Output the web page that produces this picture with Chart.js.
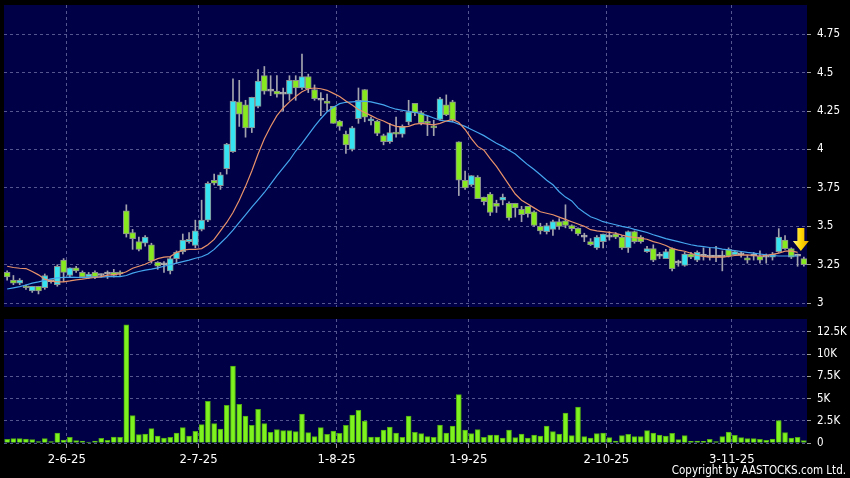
<!DOCTYPE html>
<html>
<head>
<meta charset="utf-8">
<script src="https://cdn.jsdelivr.net/npm/chart.js@4.4.0/dist/chart.umd.min.js"></script>
<style>
  html, body { margin: 0; padding: 0; background: #000; }
  #wrap { position: relative; width: 850px; height: 478px; overflow: hidden; }
  #priceChart { position: absolute; left: 0; top: 0; }
  #volChart { position: absolute; left: 0; top: 312px; }
  #copy { position: absolute; right: 4px; top: 463px; color: #fff;
          font: 11.5px 'DejaVu Sans Condensed', 'DejaVu Sans', sans-serif; }
</style>
</head>
<body>
<div id="wrap">
  <canvas id="priceChart" width="850" height="312"></canvas>
  <canvas id="volChart" width="850" height="166"></canvas>
  <div id="copy">Copyright by AASTOCKS.com Ltd.</div>
</div>
<script>
// trading days, 19 May - 18 Nov 2025
const tradingDays = [
  [5, [19,20,21,22,23,26,27,28,29,30]],
  [6, [2,3,4,5,6,9,10,11,12,13,16,17,18,19,20,23,24,25,26,27,30]],
  [7, [2,3,4,7,8,9,10,11,14,15,16,17,18,21,22,23,24,25,28,29,30,31]],
  [8, [1,4,5,6,7,8,11,12,13,14,15,18,19,20,21,22,25,26,27,28,29]],
  [9, [1,2,3,4,5,8,9,10,11,12,15,16,17,18,19,22,23,24,25,26,29,30]],
  [10, [2,3,6,8,9,10,13,14,15,16,17,20,21,22,23,24,27,28,30,31]],
  [11, [3,4,5,6,7,10,11,12,13,14,17,18]]
];
const categories = tradingDays.flatMap(([m, days]) => days.map(d => d + '-' + m + '-25'));
const shownDates = ['2-6-25', '2-7-25', '1-8-25', '1-9-25', '2-10-25', '3-11-25'];

const opens = [3.20,3.15,3.13,3.11,3.08,3.11,3.10,3.14,3.12,3.28,
  3.18,3.23,3.20,3.17,3.20,3.18,3.19,3.20,3.20,3.60,
  3.46,3.40,3.39,3.38,3.265,3.25,3.21,3.29,3.335,3.40,
  3.375,3.48,3.54,3.80,3.765,3.875,3.985,4.31,4.29,4.14,
  4.28,4.48,4.38,4.38,4.36,4.36,4.45,4.40,4.475,4.39,
  4.32,4.315,4.28,4.185,4.10,4.00,4.20,4.39,4.185,4.185,
  4.09,4.05,4.11,4.10,4.18,4.30,4.24,4.18,4.15,4.195,
  4.29,4.31,4.05,3.80,3.77,3.82,3.69,3.71,3.65,3.67,
  3.65,3.65,3.61,3.63,3.595,3.50,3.465,3.48,3.53,3.535,
  3.505,3.487,3.43,3.40,3.36,3.40,3.43,3.45,3.43,3.36,
  3.465,3.43,3.335,3.355,3.305,3.29,3.355,3.26,3.245,3.32,
  3.28,3.305,3.30,3.30,3.30,3.35,3.315,3.315,3.295,3.305,
  3.305,3.30,3.30,3.335,3.41,3.355,3.305,3.29];
const highs = [3.21,3.18,3.16,3.12,3.11,3.11,3.19,3.15,3.25,3.29,
  3.23,3.24,3.21,3.20,3.21,3.19,3.21,3.22,3.21,3.64,
  3.48,3.43,3.44,3.39,3.27,3.27,3.30,3.34,3.45,3.46,
  3.54,3.67,3.79,3.84,3.85,4.04,4.46,4.45,4.32,4.34,
  4.52,4.54,4.48,4.48,4.40,4.48,4.48,4.62,4.49,4.42,
  4.37,4.36,4.28,4.19,4.12,4.15,4.40,4.39,4.21,4.19,
  4.10,4.17,4.21,4.16,4.32,4.30,4.25,4.22,4.19,4.34,
  4.355,4.32,4.05,3.86,3.83,3.83,3.69,3.72,3.67,3.71,
  3.66,3.65,3.63,3.63,3.60,3.52,3.52,3.54,3.55,3.64,
  3.51,3.49,3.455,3.42,3.44,3.45,3.465,3.46,3.44,3.47,
  3.47,3.44,3.37,3.38,3.33,3.35,3.36,3.28,3.33,3.33,
  3.34,3.36,3.36,3.37,3.34,3.36,3.34,3.33,3.31,3.33,
  3.34,3.32,3.33,3.485,3.44,3.36,3.32,3.30];
const lows = [3.15,3.12,3.12,3.09,3.07,3.06,3.09,3.13,3.11,3.14,
  3.17,3.20,3.165,3.16,3.16,3.17,3.16,3.17,3.18,3.43,
  3.35,3.34,3.37,3.26,3.22,3.20,3.19,3.26,3.32,3.39,
  3.36,3.47,3.53,3.77,3.74,3.84,3.98,4.15,4.08,4.11,
  4.27,4.36,4.35,4.34,4.25,4.32,4.32,4.39,4.37,4.32,
  4.22,4.25,4.17,4.125,3.975,3.99,4.17,4.18,4.16,4.09,
  4.03,4.04,4.08,4.08,4.16,4.22,4.16,4.09,4.09,4.19,
  4.22,4.18,3.70,3.74,3.76,3.68,3.64,3.57,3.59,3.64,
  3.54,3.56,3.53,3.56,3.50,3.45,3.45,3.44,3.48,3.49,
  3.47,3.44,3.40,3.375,3.35,3.36,3.41,3.42,3.35,3.33,
  3.39,3.39,3.33,3.27,3.29,3.29,3.21,3.24,3.24,3.29,
  3.27,3.28,3.28,3.27,3.21,3.30,3.31,3.30,3.26,3.28,
  3.26,3.26,3.28,3.33,3.35,3.29,3.24,3.24];
const closes = [3.17,3.13,3.15,3.10,3.11,3.08,3.18,3.14,3.24,3.20,
  3.23,3.21,3.17,3.19,3.17,3.18,3.19,3.18,3.19,3.45,
  3.42,3.35,3.43,3.275,3.24,3.25,3.29,3.33,3.41,3.415,
  3.47,3.54,3.78,3.78,3.835,4.035,4.315,4.23,4.14,4.34,
  4.445,4.38,4.38,4.36,4.36,4.45,4.40,4.475,4.395,4.33,
  4.32,4.30,4.17,4.15,4.03,4.14,4.32,4.21,4.20,4.105,
  4.05,4.11,4.10,4.15,4.245,4.24,4.175,4.17,4.14,4.33,
  4.225,4.19,3.80,3.75,3.83,3.68,3.66,3.59,3.63,3.69,
  3.555,3.62,3.575,3.58,3.505,3.47,3.505,3.53,3.50,3.505,
  3.485,3.45,3.43,3.38,3.43,3.45,3.43,3.43,3.36,3.465,
  3.40,3.40,3.355,3.28,3.305,3.335,3.225,3.26,3.32,3.30,
  3.33,3.305,3.30,3.30,3.30,3.305,3.335,3.315,3.28,3.305,
  3.28,3.30,3.32,3.43,3.355,3.30,3.305,3.25];
const ma10 = [3.24,3.232,3.227,3.225,3.206,3.184,3.156,3.143,3.139,3.139,
  3.145,3.152,3.156,3.162,3.167,3.173,3.182,3.186,3.19,3.204,
  3.227,3.24,3.253,3.273,3.29,3.299,3.303,3.33,3.345,3.35,
  3.35,3.355,3.38,3.415,3.47,3.525,3.59,3.67,3.76,3.86,
  3.97,4.07,4.15,4.22,4.27,4.31,4.345,4.375,4.395,4.40,
  4.395,4.385,4.365,4.345,4.315,4.29,4.26,4.24,4.22,4.20,
  4.185,4.165,4.15,4.145,4.15,4.165,4.17,4.165,4.16,4.17,
  4.185,4.195,4.175,4.13,4.07,4.02,3.995,3.94,3.89,3.83,
  3.77,3.71,3.67,3.645,3.62,3.595,3.585,3.575,3.56,3.545,
  3.53,3.515,3.50,3.478,3.47,3.465,3.46,3.455,3.443,3.433,
  3.428,3.422,3.416,3.40,3.39,3.375,3.355,3.345,3.338,3.325,
  3.31,3.305,3.30,3.299,3.30,3.305,3.31,3.312,3.314,3.31,
  3.307,3.31,3.318,3.325,3.338,3.34,3.33,null];
const ma20 = [3.092,3.10,3.108,3.118,3.13,3.138,3.148,3.158,3.164,3.168,
  3.169,3.168,3.167,3.168,3.169,3.17,3.172,3.173,3.173,3.18,
  3.195,3.206,3.215,3.222,3.23,3.24,3.25,3.26,3.27,3.28,
  3.292,3.302,3.32,3.35,3.39,3.43,3.475,3.525,3.575,3.625,
  3.672,3.72,3.775,3.83,3.88,3.93,3.99,4.04,4.095,4.15,
  4.20,4.245,4.275,4.298,4.307,4.31,4.313,4.315,4.31,4.30,
  4.29,4.275,4.262,4.255,4.248,4.242,4.232,4.22,4.205,4.19,
  4.185,4.18,4.165,4.15,4.13,4.11,4.09,4.065,4.04,4.02,
  3.995,3.97,3.935,3.90,3.87,3.835,3.80,3.77,3.725,3.69,
  3.665,3.62,3.59,3.562,3.548,3.53,3.52,3.51,3.50,3.492,
  3.48,3.47,3.46,3.445,3.433,3.42,3.41,3.40,3.39,3.38,
  3.373,3.368,3.362,3.36,3.352,3.347,3.342,3.336,3.33,3.325,
  3.32,3.314,3.31,3.307,3.307,3.307,3.307,null];
const volumes = [410,490,490,450,375,150,490,150,1125,340,
  640,260,225,110,225,525,300,675,640,13300,
  3075,940,1010,1610,790,560,640,1125,1725,790,
  1310,2060,4690,2175,1575,4240,8660,4350,3040,1990,
  3790,2175,1200,1500,1390,1390,1275,3260,1160,710,
  1725,975,1350,1090,1990,3150,3675,2475,675,675,
  1460,1800,1125,640,3040,1200,1050,710,640,2025,
  1125,1910,5440,1460,1050,1500,640,900,900,560,
  1460,600,1010,560,900,790,1910,1275,1010,3375,
  825,4050,710,560,1050,1125,600,225,825,975,
  710,710,1390,1125,900,790,1090,375,825,190,
  225,190,410,150,710,1240,860,600,490,490,
  410,300,450,2510,1160,560,640,260];
const priceTicks = [3, 3.25, 3.5, 3.75, 4, 4.25, 4.5, 4.75];
const volTicks = [0, 2500, 5000, 7500, 10000, 12500];

const FONT = "'DejaVu Sans Condensed', 'DejaVu Sans', sans-serif";
const gridCol = '#55558f';
const upCol = '#36e3f0';
const downCol = '#86ea1e';

const shown = i => shownDates.includes(categories[i]);
const vGrid = ctx => (ctx.tick && shown(ctx.tick.value)) ? gridCol : 'rgba(0,0,0,0)';
const vTick = ctx => (ctx.tick && shown(ctx.tick.value)) ? '#9a9a9a' : 'rgba(0,0,0,0)';

// black page, navy plot area
const plotBg = {
  id: 'plotBg',
  beforeDraw(chart) {
    const { ctx, chartArea: a } = chart;
    ctx.save();
    ctx.fillStyle = '#000';
    ctx.fillRect(0, 0, chart.width, chart.height);
    ctx.fillStyle = '#000046';
    ctx.fillRect(a.left, a.top, a.right - a.left, a.bottom - a.top);
    ctx.restore();
  }
};

// yellow arrow above the last candle
const arrowMark = {
  id: 'arrowMark',
  afterDatasetsDraw(chart) {
    const last = closes.length - 1;
    const x = chart.scales.x.getPixelForValue(last) - 3;
    const tip = chart.scales.y.getPixelForValue(highs[last]) - 6;
    const top = tip - 23;
    const ctx = chart.ctx;
    const g = ctx.createLinearGradient(x - 8, 0, x + 8, 0);
    g.addColorStop(0, '#fff38a');
    g.addColorStop(0.5, '#ffd800');
    g.addColorStop(1, '#e6a400');
    ctx.save();
    ctx.fillStyle = g;
    ctx.beginPath();
    ctx.moveTo(x - 3.5, top);
    ctx.lineTo(x + 3.5, top);
    ctx.lineTo(x + 3.5, tip - 10);
    ctx.lineTo(x + 8, tip - 10);
    ctx.lineTo(x, tip);
    ctx.lineTo(x - 8, tip - 10);
    ctx.lineTo(x - 3.5, tip - 10);
    ctx.closePath();
    ctx.fill();
    ctx.restore();
  }
};

const yAxisFit = s => { s.width = 43; s.paddingTop = 0; s.paddingBottom = 0; };

new Chart(document.getElementById('priceChart'), {
  type: 'bar',
  data: {
    labels: categories,
    datasets: [
      {
        type: 'line', data: ma10, borderColor: '#e8926a', borderWidth: 1.2,
        pointRadius: 0, order: 1
      },
      {
        type: 'line', data: ma20, borderColor: '#45a6ee', borderWidth: 1.2,
        pointRadius: 0, order: 1
      },
      {
        data: opens.map((o, i) => [o, closes[i]]),
        backgroundColor: opens.map((o, i) => closes[i] > o ? upCol : closes[i] < o ? downCol : '#b0b0b0'),
        borderColor: opens.map((o, i) => closes[i] === o ? '#b0b0b0' : '#8c9090'),
        borderWidth: 1, borderSkipped: false, barThickness: 6, minBarLength: 2,
        grouped: false, order: 2
      },
      {
        data: lows.map((l, i) => [l, highs[i]]),
        backgroundColor: '#a4a4ae', barThickness: 1, grouped: false, order: 3
      }
    ]
  },
  options: {
    responsive: false,
    animation: false,
    layout: { padding: { left: 4, top: 5, bottom: 5, right: 0 } },
    plugins: { legend: { display: false }, tooltip: { enabled: false } },
    scales: {
      x: {
        offset: true,
        grid: { offset: true, color: vGrid, drawTicks: false },
        border: { display: false, dash: [3, 3] },
        ticks: { display: false, autoSkip: false },
        afterFit: s => { s.height = 0; s.paddingLeft = 0; s.paddingRight = 0; }
      },
      y: {
        position: 'right',
        min: 2.975,
        max: 4.94,
        afterBuildTicks: s => { s.ticks = priceTicks.map(v => ({ value: v })); },
        grid: { color: gridCol, tickColor: '#9a9a9a', tickLength: 4 },
        border: { display: false, dash: [3, 3] },
        ticks: { color: '#fff', padding: 6, font: { family: FONT, size: 11.5 }, callback: v => String(v) },
        afterFit: yAxisFit
      }
    }
  },
  plugins: [plotBg, arrowMark]
});

new Chart(document.getElementById('volChart'), {
  type: 'bar',
  data: {
    labels: categories,
    datasets: [{
      data: volumes,
      backgroundColor: '#7ef21e',
      borderColor: '#4ea814',
      borderWidth: 1,
      borderSkipped: 'start',
      barThickness: 5
    }]
  },
  options: {
    responsive: false,
    animation: false,
    layout: { padding: { left: 4, top: 7, bottom: 0, right: 0 } },
    plugins: { legend: { display: false }, tooltip: { enabled: false } },
    scales: {
      x: {
        offset: true,
        grid: { offset: true, color: vGrid, tickColor: vTick, tickLength: 5 },
        border: { display: false, dash: [3, 3] },
        ticks: {
          autoSkip: false, maxRotation: 0, color: '#fff', padding: 4, labelOffset: -3,
          font: { family: FONT, size: 13 },
          callback: v => shown(v) ? categories[v] : ''
        },
        afterFit: s => { s.height = 35; s.paddingLeft = 0; s.paddingRight = 0; }
      },
      y: {
        position: 'right',
        min: 0,
        max: 13960,
        afterBuildTicks: s => { s.ticks = volTicks.map(v => ({ value: v })); },
        grid: { color: gridCol, tickColor: '#9a9a9a', tickLength: 4 },
        border: { display: false, dash: [3, 3] },
        ticks: {
          color: '#fff', padding: 6, font: { family: FONT, size: 11.5 },
          callback: v => v === 0 ? '0' : (v / 1000) + 'K'
        },
        afterFit: yAxisFit
      }
    }
  },
  plugins: [plotBg]
});
</script>
</body>
</html>
